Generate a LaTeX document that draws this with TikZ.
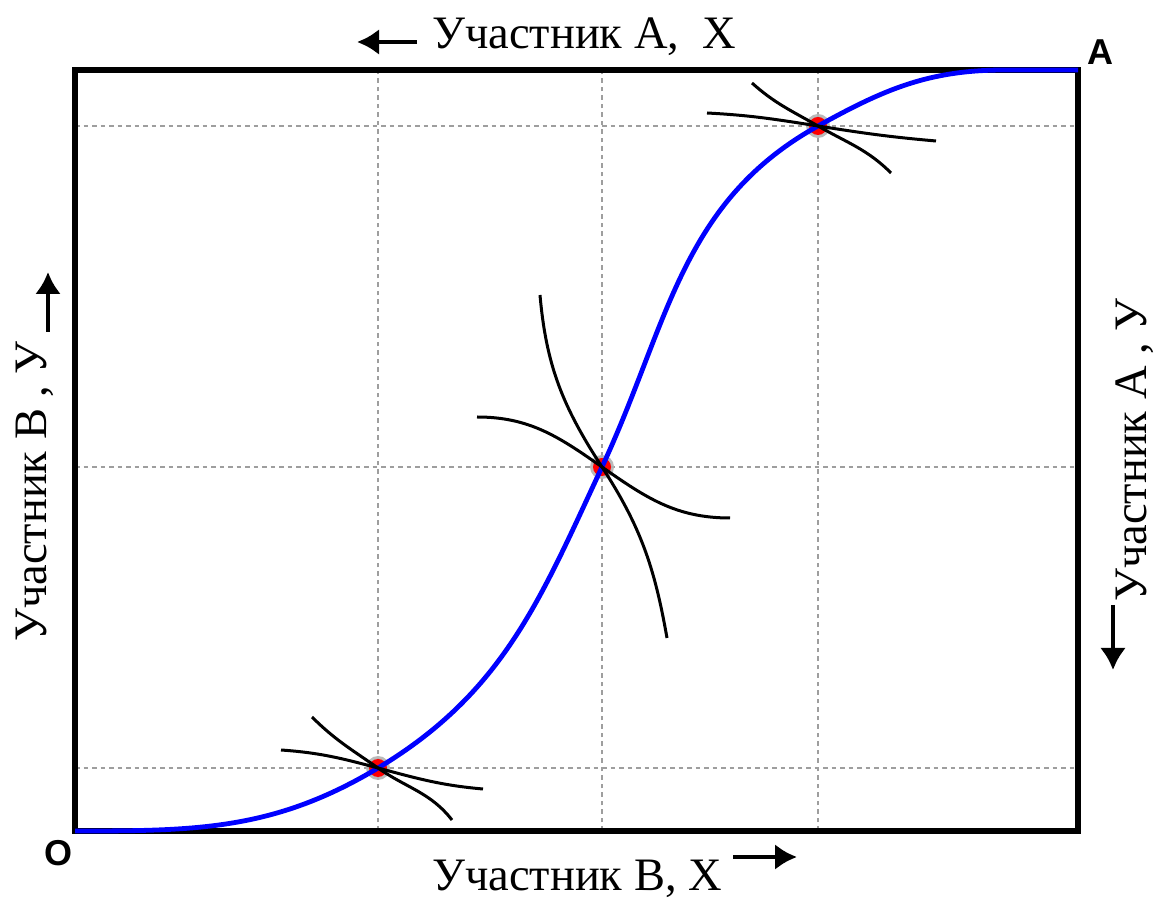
\documentclass[tikz,border=0pt]{standalone}
\usepackage{fontspec}
\setmainfont{Liberation Serif}
\newfontfamily\labsans{Liberation Sans}
\usetikzlibrary{arrows.meta}
\begin{document}
\begin{tikzpicture}[x=1pt,y=1pt,
  gridline/.style={draw=black!38,line width=2pt,dash pattern=on 4.5pt off 4pt},
  frame/.style={draw=black,line width=6pt},
  contract/.style={draw=blue,line width=4.8pt},
  indiff/.style={draw=black,line width=3pt},
  axisarrow/.style={draw=black,line width=4.5pt,-{Latex[length=22pt,width=26pt]}},
  axislabel/.style={font=\fontsize{46.5}{50}\selectfont,inner sep=0pt},
  cornerlabel/.style={font=\labsans\bfseries\fontsize{36}{38}\selectfont,inner sep=0pt}]
\useasboundingbox (0,0) rectangle (1168,900);
% coordinates
\coordinate (O) at (75,69);
\coordinate (A) at (1078,830);
\coordinate (P1) at (378,132);
\coordinate (P2) at (602,433);
\coordinate (P3) at (818,774);
\coordinate (T) at (1005,830);
% grid
\foreach \x in {378,602,818} \draw[gridline] (\x,69) -- (\x,830);
\foreach \y in {132,433,774} \draw[gridline] (75,\y) -- (1078,\y);
% frame
\draw[frame] (O) rectangle (A);
% halo and dots
\foreach \p in {P1,P2,P3} {
  \fill[black!30,opacity=0.9] (\p) circle (12pt);
  \fill[red] (\p) circle (9pt);
}
% contract curve
\draw[contract] (O) to[out=0,in=211] (P1) to[out=31,in=245] (P2)
  to[out=65,in=209] (P3) to[out=29,in=180] (T) -- (A);
% indifference curves at P1
\draw[indiff] (281,150) to[out=-4,in=165] (P1) to[out=-15,in=175] (483,111);
\draw[indiff] (312,183) to[out=-45,in=145] (P1) to[out=-35,in=128] (452,80);
% at P2
\draw[indiff] (477,483) to[out=0,in=145] (P2) to[out=-35,in=180] (730,382);
\draw[indiff] (540,605) to[out=-85,in=123] (P2) to[out=-57,in=100] (667,262);
% at P3
\draw[indiff] (707,787) to[out=-3,in=171] (P3) to[out=-9,in=175] (936,759);
\draw[indiff] (752,817) to[out=-42,in=150] (P3) to[out=-30,in=135] (891,727);
% labels
\node[axislabel,anchor=base west] (top) at (432,851) {Участник А,\ \ Х};
\coordinate (ta1) at (417,858);
\coordinate (ta2) at (357,858);
\draw[axisarrow] (ta1) -- (ta2);
\node[axislabel,anchor=base west] (bot) at (432,9) {Участник В, Х};
\coordinate (ba1) at (733,43);
\coordinate (ba2) at (797,43);
\draw[axisarrow] (ba1) -- (ba2);
\node[axislabel,anchor=base west,rotate=90] (left) at (46,258) {Участник В , У};
\coordinate (la1) at (48,568);
\coordinate (la2) at (48,628);
\draw[axisarrow] (la1) -- (la2);
\node[axislabel,anchor=base west,rotate=90] (right) at (1146,298) {Участник А , У};
\coordinate (ra1) at (1113,295);
\coordinate (ra2) at (1113,230);
\draw[axisarrow] (ra1) -- (ra2);
\node[cornerlabel,anchor=base] (olab) at (59,34) {O};
\node[cornerlabel,anchor=base] (alab) at (1100,835) {A};
\end{tikzpicture}
\end{document}
